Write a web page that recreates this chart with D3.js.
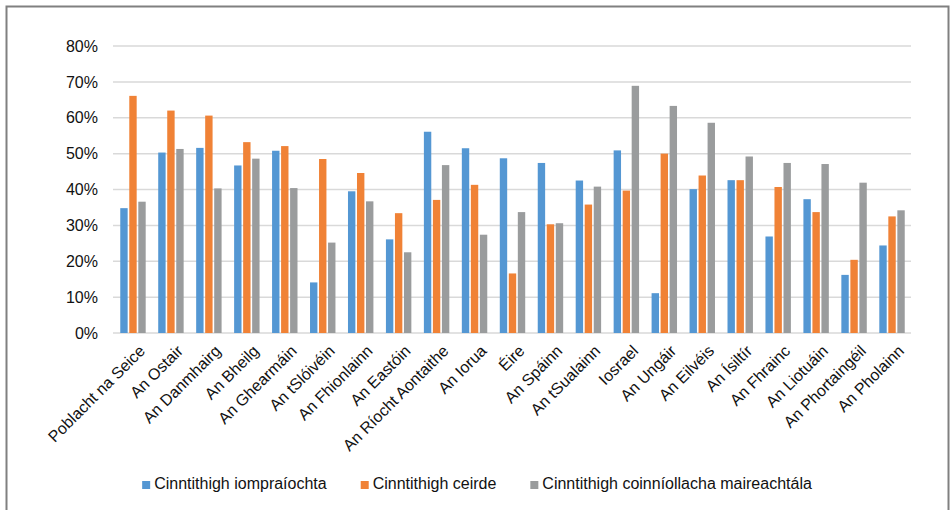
<!DOCTYPE html>
<html>
<head>
<meta charset="utf-8">
<script src="https://cdn.jsdelivr.net/npm/d3@7"></script>
<style>
  body { margin: 0; background: #fff; }
  text { font-family: "Liberation Sans", Arial, sans-serif; fill: #111; }
</style>
</head>
<body>
<div id="chart-area"></div>
<script>
// Data
let countries = ["Poblacht na Seice", "An Ostair", "An Danmhairg", "An Bheilg", "An Ghearmáin",
    "An tSlóivéin", "An Fhionlainn", "An Eastóin", "An Ríocht Aontaithe", "An Iorua", "Éire",
    "An Spáinn", "An tSualainn", "Iosrael", "An Ungáir", "An Eilvéis", "An Ísiltír", "An Fhrainc",
    "An Liotuáin", "An Phortaingéil", "An Pholainn"];

let seriesNames = ["Cinntithigh iompraíochta", "Cinntithigh ceirde", "Cinntithigh coinníollacha maireachtála"];

let behaviour = [34.8, 50.3, 51.6, 46.7, 50.8, 14.1, 39.5, 26.1, 56.1, 51.5, 48.7,
    47.4, 42.5, 50.9, 11.1, 40.1, 42.6, 26.9, 37.3, 16.2, 24.4];
let occupation = [66.1, 62.0, 60.6, 53.2, 52.1, 48.5, 44.6, 33.4, 37.1, 41.3, 16.6,
    30.3, 35.8, 39.7, 50.0, 43.9, 42.6, 40.7, 33.7, 20.4, 32.5];
let living = [36.6, 51.3, 40.3, 48.6, 40.4, 25.2, 36.7, 22.5, 46.8, 27.4, 33.7,
    30.6, 40.8, 68.9, 63.3, 58.6, 49.2, 47.4, 47.1, 41.9, 34.2];

let yTicks = [0, 10, 20, 30, 40, 50, 60, 70, 80];
let colors = ["#5497d3", "#f08236", "#9a9c9d"];

let seriesValues = [behaviour, occupation, living];

// SVG drawing area
let W = 951, H = 510;
let plot = {left: 113, right: 911, top: 46, bottom: 333};

let svg = d3.select("#chart-area").append("svg")
    .attr("width", W)
    .attr("height", H);

// frame
svg.append("rect")
    .attr("x", 6.5).attr("y", 6.5)
    .attr("width", 942).attr("height", 520)
    .attr("fill", "none")
    .attr("stroke", "#808080")
    .attr("stroke-width", 2);

// Scales
let x0 = d3.scaleBand()
    .domain(countries)
    .range([plot.left + 1, plot.right])
    .paddingInner(0.33)
    .paddingOuter(0.165);

let x1 = d3.scaleBand()
    .domain(d3.range(seriesNames.length))
    .range([0, x0.bandwidth()])
    .paddingInner(0.18);

let y = d3.scaleLinear()
    .domain([0, 80])
    .range([plot.bottom, plot.top]);

// gridlines
svg.append("g")
    .selectAll("line")
    .data(yTicks)
    .join("line")
    .attr("x1", plot.left)
    .attr("x2", plot.right)
    .attr("y1", d => y(d))
    .attr("y2", d => y(d))
    .attr("stroke", "#d9d9d9")
    .attr("stroke-width", 1.5);

// y-axis labels
let yAxis = svg.append("g")
    .attr("transform", `translate(${plot.left},0)`)
    .call(d3.axisLeft(y).tickValues(yTicks).tickFormat(d => d + "%").tickSize(0).tickPadding(15));
yAxis.select(".domain").remove();
yAxis.selectAll("text")
    .style("font-size", "16px")
    .style("font-family", "'Liberation Sans', Arial, sans-serif")
    .attr("fill", "#111");

// bars
let rows = countries.map((c, i) => ({country: c, values: seriesValues.map(s => s[i])}));

svg.append("g")
    .selectAll("g")
    .data(rows)
    .join("g")
    .attr("transform", d => `translate(${x0(d.country)},0)`)
    .selectAll("rect")
    .data(d => d.values)
    .join("rect")
    .attr("x", (d, i) => x1(i))
    .attr("y", d => y(d))
    .attr("width", x1.bandwidth())
    .attr("height", d => plot.bottom - y(d))
    .attr("fill", (d, i) => colors[i]);

// x-axis labels
svg.append("g")
    .selectAll("text")
    .data(countries)
    .join("text")
    .attr("transform", d => `translate(${x0(d) + x0.bandwidth() / 2 + 9},${plot.bottom + 15}) rotate(-45)`)
    .attr("text-anchor", "end")
    .attr("dy", "0.35em")
    .style("font-size", "16px")
    .text(d => d);

// legend
let legend = svg.append("g");
let items = legend.selectAll("g")
    .data(seriesNames)
    .join("g");
items.append("rect")
    .attr("width", 8).attr("height", 8)
    .attr("y", 481)
    .attr("fill", (d, i) => colors[i]);
items.append("text")
    .attr("x", 12)
    .attr("y", 489)
    .style("font-size", "16px")
    .text(d => d);

let gap = 34, pos = 0, offsets = [];
items.each(function(d, i) {
    offsets.push(pos);
    pos += 12 + this.querySelector("text").getComputedTextLength() + gap;
});
let total = pos - gap;
let start = 477 - total / 2;
items.attr("transform", (d, i) => `translate(${start + offsets[i]},0)`);
</script>
</body>
</html>
